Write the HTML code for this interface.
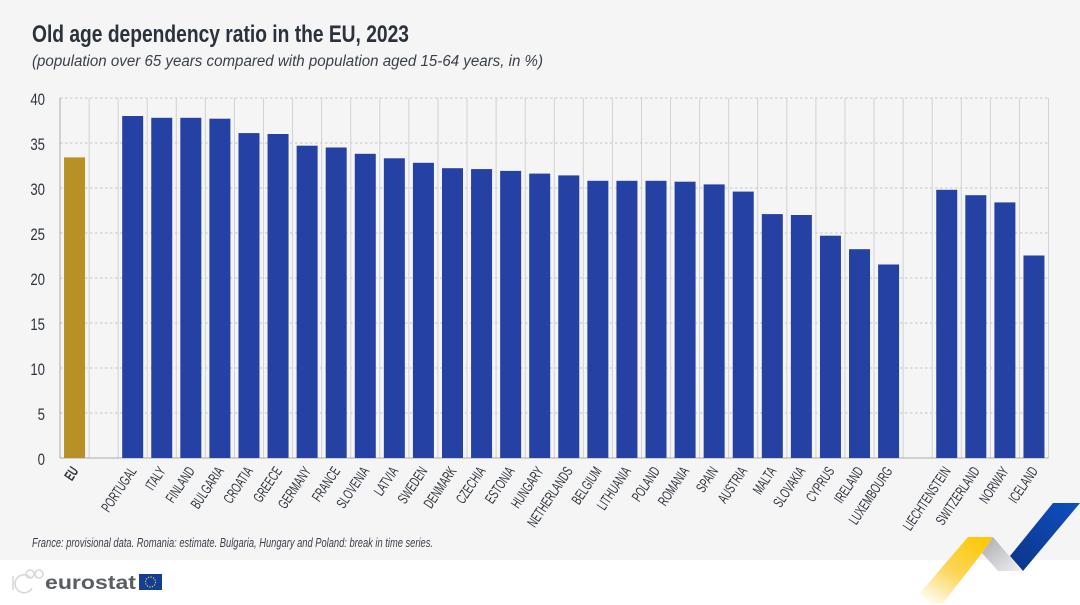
<!DOCTYPE html>
<html lang="en">
<head>
<meta charset="utf-8">
<title>Old age dependency ratio in the EU, 2023</title>
<style>
html,body{margin:0;padding:0;background:#fff;}
body{width:1080px;height:605px;overflow:hidden;}
svg{display:block;font-family:"Liberation Sans",sans-serif;}
</style>
</head>
<body>
<svg id="chart" width="1080" height="605" viewBox="0 0 1080 605" xmlns="http://www.w3.org/2000/svg">
  <defs>
    <linearGradient id="yellowFade" x1="0.1" y1="1" x2="0.75" y2="0">
      <stop offset="0" stop-color="#ffffff"/>
      <stop offset="0.5" stop-color="#fbd658"/>
      <stop offset="1" stop-color="#fdc80c"/>
    </linearGradient>
    <linearGradient id="greyFade" x1="0" y1="0" x2="1" y2="1">
      <stop offset="0" stop-color="#a9abb0"/>
      <stop offset="1" stop-color="#f0f0f2"/>
    </linearGradient>
    <linearGradient id="blueFade" x1="1" y1="0" x2="0" y2="1">
      <stop offset="0" stop-color="#0f4fc0"/>
      <stop offset="1" stop-color="#0c3488"/>
    </linearGradient>
  </defs>
  <rect x="0" y="0" width="1080" height="560" fill="#f5f5f6"/>
  <g>
    <polygon points="968,537 993,537 982,553 943,603 930,605 920,593" fill="url(#yellowFade)"/>
    <polygon points="993,537 1022,571 998,571 982,553" fill="url(#greyFade)"/>
    <polygon points="1053,503 1080,503 1023,571 1010,556" fill="url(#blueFade)"/>
  </g>
  <text x="32" y="42" font-size="24" font-weight="700" fill="#2b323b" textLength="377" lengthAdjust="spacingAndGlyphs">Old age dependency ratio in the EU, 2023</text>
  <text x="32" y="66" font-size="15.5" font-style="italic" fill="#3a4049" textLength="511" lengthAdjust="spacingAndGlyphs">(population over 65 years compared with population aged 15-64 years, in %)</text>
  <g id="grid"></g>
  <g id="bars"></g>
  <g id="yticks"></g>
  <g id="xticks"></g>
  <text x="32" y="547" font-size="12.5" font-style="italic" fill="#3a4049" textLength="401" lengthAdjust="spacingAndGlyphs">France: provisional data. Romania: estimate. Bulgaria, Hungary and Poland: break in time series.</text>
  <g>
    <text x="45" y="589" font-size="19" font-weight="700" fill="#5a5d62" textLength="91" lengthAdjust="spacingAndGlyphs">eurostat</text>
    <rect x="139" y="574" width="23" height="16" fill="#123f93"/>
    <circle cx="150.5" cy="582" r="5" fill="none" stroke="#f3d33f" stroke-width="1.2" stroke-dasharray="1.2 1.4"/>
  </g>
  <g fill="none" stroke-width="1.6">
    <path d="M13 576v14M30 577a9 9 0 1 0 2 11" stroke="#d8d8d8"/>
    <circle cx="30" cy="574" r="4" stroke="#d8d8d8"/>
    <circle cx="39" cy="574" r="4" stroke="#d8d8d8"/>
  </g>
</svg>
<script>
const categories = ["EU", "", "PORTUGAL", "ITALY", "FINLAND", "BULGARIA", "CROATIA", "GREECE", "GERMANY", "FRANCE", "SLOVENIA", "LATVIA", "SWEDEN", "DENMARK", "CZECHIA", "ESTONIA", "HUNGARY", "NETHERLANDS", "BELGIUM", "LITHUANIA", "POLAND", "ROMANIA", "SPAIN", "AUSTRIA", "MALTA", "SLOVAKIA", "CYPRUS", "IRELAND", "LUXEMBOURG", "", "LIECHTENSTEIN", "SWITZERLAND", "NORWAY", "ICELAND"];
const values = [33.4, null, 38.0, 37.8, 37.8, 37.7, 36.1, 36.0, 34.7, 34.5, 33.8, 33.3, 32.8, 32.2, 32.1, 31.9, 31.6, 31.4, 30.8, 30.8, 30.8, 30.7, 30.4, 29.6, 27.1, 27.0, 24.7, 23.2, 21.5, null, 29.8, 29.2, 28.4, 22.5];
const yTicks = [0, 5, 10, 15, 20, 25, 30, 35, 40];

const NS = "http://www.w3.org/2000/svg";
const plotLeft = 60, plotRight = 1048.5, plotTop = 98, plotBottom = 458, yMax = 40;
const step = (plotRight - plotLeft) / categories.length;
const barWidth = 21;
function xLeft(i) { return plotLeft + i * step; }
function xCenter(i) { return xLeft(i) + step / 2; }
function yPos(v) { return plotBottom - (v / yMax) * (plotBottom - plotTop); }
function make(tag, attrs, parent) {
  const el = document.createElementNS(NS, tag);
  for (const k in attrs) el.setAttribute(k, attrs[k]);
  parent.appendChild(el);
  return el;
}
const grid = document.getElementById("grid");
const bars = document.getElementById("bars");
const yGroup = document.getElementById("yticks");
const xGroup = document.getElementById("xticks");

yTicks.forEach(function (t) {
  if (t > 0) {
    const line = make("line", {x1: plotLeft, x2: plotRight, y1: yPos(t), y2: yPos(t), stroke: "#c4c5c8", "stroke-width": 1, "stroke-dasharray": "2.5 2.5"}, grid);
    
    
  }
  const label = make("text", {x: 0, y: 0, "text-anchor": "end", "font-size": 16.5, fill: "#2f353d", transform: "translate(45 " + (yPos(t) + 7) + ") scale(0.8 1)"}, yGroup);
  label.textContent = String(t);
  
  
});

for (let i = 0; i <= categories.length; i++) {
  const line = make("line", {x1: xLeft(i), x2: xLeft(i), y1: plotTop, y2: plotBottom, stroke: i === 0 ? "#a9abaf" : "#d0d1d4", "stroke-width": 1}, grid);
  
  
}

const baseline = make("line", {x1: plotLeft, x2: plotRight, y1: plotBottom, y2: plotBottom, stroke: "#a9abaf", "stroke-width": 1}, grid);



categories.forEach(function (name, i) {
  if (values[i] === null) return;
  const isEU = name === "EU";
  const bar = make("rect", {x: xCenter(i) - barWidth / 2, y: yPos(values[i]), width: barWidth, height: plotBottom - yPos(values[i]), fill: isEU ? "#b79125" : "#2441a3"}, bars);
  
  

  const lx = xCenter(i) + 4.5, ly = 471;
  const label = make("text", {
    x: 0, y: 0, "text-anchor": "end", "font-size": 14.5,
    "font-weight": isEU ? 700 : 400, fill: "#2f353d",
    transform: "translate(" + lx + " " + ly + ") rotate(-56) scale(0.64 1)"
  }, xGroup);
  label.textContent = name;
  
  
});
</script>
</body>
</html>
